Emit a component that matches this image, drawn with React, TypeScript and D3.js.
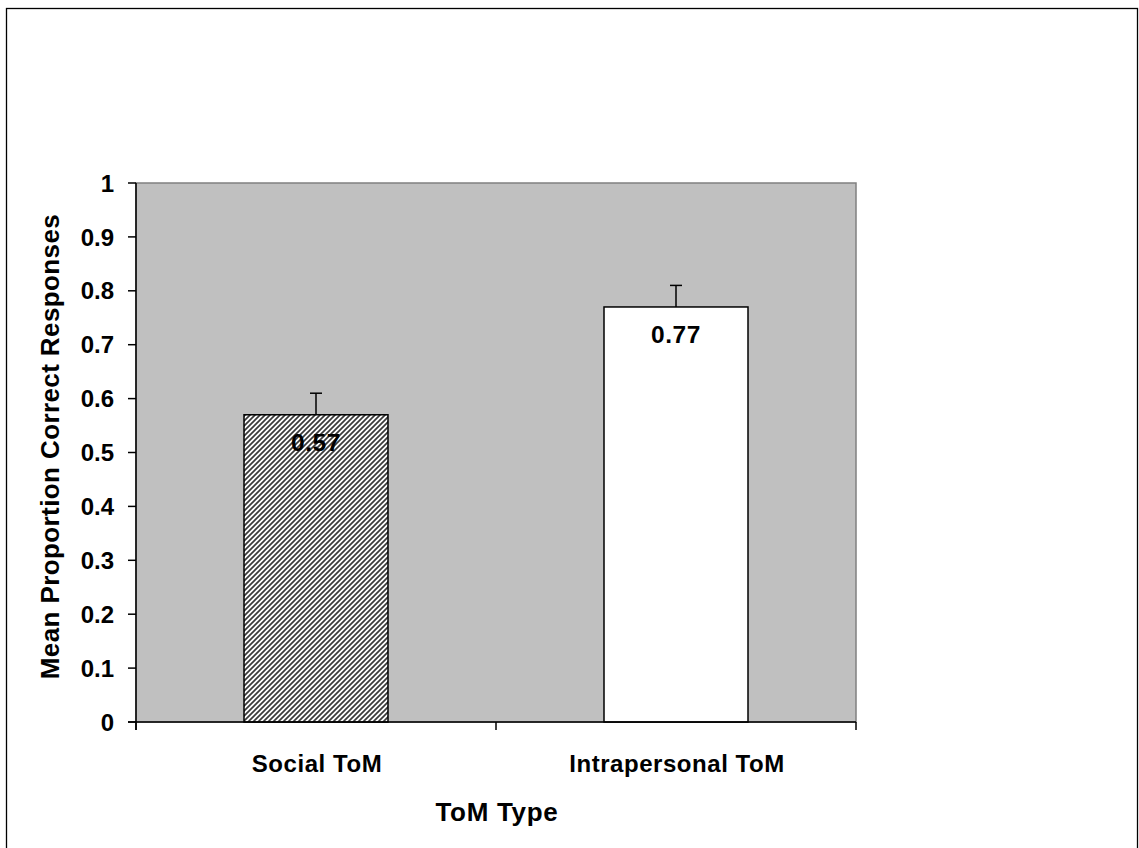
import React from "react";
import * as d3 from "d3";

const categories = ["Social ToM", "Intrapersonal ToM"];
const means = [0.57, 0.77];
const errors = [0.04, 0.04];
const labels = ["0.57", "0.77"];
const yTicks = [0, 0.1, 0.2, 0.3, 0.4, 0.5, 0.6, 0.7, 0.8, 0.9, 1];
const yTickLabels = ["0", "0.1", "0.2", "0.3", "0.4", "0.5", "0.6", "0.7", "0.8", "0.9", "1"];

const W = 1139;
const H = 848;
const plot = { left: 136, right: 856, top: 183, bottom: 722 };
const FONT = "'Liberation Sans', Arial, Helvetica, sans-serif";

export default function App() {
  const x = d3
    .scaleBand<string>()
    .domain(categories)
    .range([plot.left, plot.right])
    .paddingInner(0.6)
    .paddingOuter(0.3);
  const band = d3.scaleBand<string>().domain(categories).range([plot.left, plot.right]);
  const y = d3.scaleLinear().domain([0, 1]).range([plot.bottom, plot.top]);

  const fills = ["url(#hatch)", "#ffffff"];

  return (
    <svg
      width={W}
      height={H}
      style={{ position: "absolute", left: 0, top: 0, fontFamily: FONT }}
    >
      <defs>
        <pattern id="hatch" patternUnits="userSpaceOnUse" width={5} height={5}>
          <rect width={5} height={5} fill="#ffffff" />
          <path d="M-1,6 L6,-1 M-1,1 L1,-1 M4,6 L6,4" stroke="#3a3a3a" strokeWidth={1.7} />
        </pattern>
      </defs>
      <rect x={0} y={0} width={W} height={H} fill="#ffffff" />
      {/* outer border */}
      <rect x={6.5} y={8.5} width={1131} height={845} fill="none" stroke="#000" strokeWidth={1.3} />

      {/* plot area */}
      <rect
        x={plot.left}
        y={plot.top}
        width={plot.right - plot.left}
        height={plot.bottom - plot.top}
        fill="#c0c0c0"
        stroke="#808080"
        strokeWidth={1.5}
      />

      {/* bars */}
      {categories.map((c, i) => {
        const bx = x(c)!;
        const bw = x.bandwidth();
        const top = y(means[i]);
        const cx = bx + bw / 2;
        const et = y(means[i] + errors[i]);
        return (
          <g key={c}>
            <rect
              x={bx}
              y={top}
              width={bw}
              height={y(0) - top}
              fill={fills[i]}
              stroke="#000"
              strokeWidth={1.5}
            />
            <line x1={cx} x2={cx} y1={top} y2={et} stroke="#000" strokeWidth={1.5} />
            <line x1={cx - 6} x2={cx + 6} y1={et} y2={et} stroke="#000" strokeWidth={1.5} />
            <text
              x={cx}
              y={top + 36}
              textAnchor="middle"
              fontSize={24.5}
              letterSpacing={0.6}
              fontWeight="bold"
              fill="#000"
            >
              {labels[i]}
            </text>
          </g>
        );
      })}

      {/* y axis */}
      <line x1={plot.left} x2={plot.left} y1={plot.top} y2={plot.bottom + 8} stroke="#000" strokeWidth={1.5} />
      {yTicks.map((t, i) => (
        <g key={t}>
          <line x1={plot.left - 8} x2={plot.left} y1={y(t)} y2={y(t)} stroke="#000" strokeWidth={1.5} />
          <text
            x={114}
            y={y(t)}
            dy="0.36em"
            textAnchor="end"
            fontSize={24}
            fontWeight="bold"
            fill="#000"
          >
            {yTickLabels[i]}
          </text>
        </g>
      ))}

      {/* x axis */}
      <line x1={plot.left - 8} x2={plot.right} y1={plot.bottom} y2={plot.bottom} stroke="#000" strokeWidth={1.5} />
      {[plot.left, ...categories.map((c) => band(c)! + band.bandwidth())].map((px, i) => (
        <line key={i} x1={px} x2={px} y1={plot.bottom} y2={plot.bottom + 8} stroke="#000" strokeWidth={1.5} />
      ))}
      {categories.map((c) => (
        <text
          key={c}
          x={band(c)! + band.bandwidth() / 2 + 1}
          y={772}
          textAnchor="middle"
          fontSize={24}
          letterSpacing={0.55}
          fontWeight="bold"
          fill="#000"
        >
          {c}
        </text>
      ))}

      <text
        x={(plot.left + plot.right) / 2 + 1}
        y={821}
        textAnchor="middle"
        fontSize={26}
        letterSpacing={0.7}
        fontWeight="bold"
        fill="#000"
      >
        ToM Type
      </text>
      <text
        transform={`translate(59, ${(plot.top + plot.bottom) / 2 - 6}) rotate(-90)`}
        textAnchor="middle"
        fontSize={26}
        letterSpacing={0.4}
        fontWeight="bold"
        fill="#000"
      >
        Mean Proportion Correct Responses
      </text>
    </svg>
  );
}
